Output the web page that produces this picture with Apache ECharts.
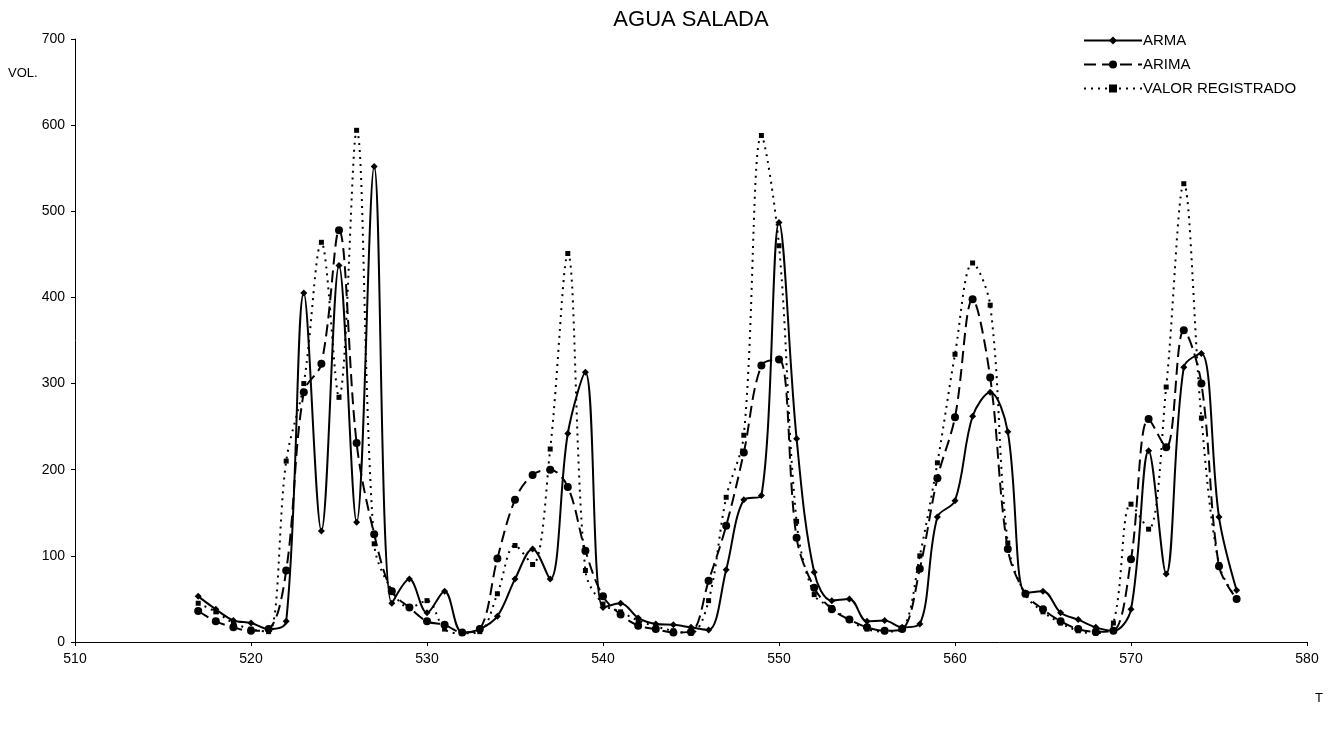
<!DOCTYPE html>
<html>
<head>
<meta charset="utf-8">
<title>AGUA SALADA</title>
<script src="https://cdn.jsdelivr.net/npm/echarts@6/dist/echarts.min.js"></script>
<style>
  html, body { margin: 0; padding: 0; background: #fff; }
  #chart { width: 1339px; height: 730px; }
</style>
</head>
<body>
<div id="chart"></div>
<script>
// Periods (T) 517..576
const periods = [517,518,519,520,521,522,523,524,525,526,527,528,529,530,531,532,533,534,535,536,
                 537,538,539,540,541,542,543,544,545,546,547,548,549,550,551,552,553,554,555,556,
                 557,558,559,560,561,562,563,564,565,566,567,568,569,570,571,572,573,574,575,576];

const arma = [53,38,25,22,15,24,405,129,437,139,552,45,73,34,59,11,15,30,73,108,
              73,242,313,40,45,28,21,20,17,14,84,165,170,487,236,81,48,50,24,25,
              17,21,145,164,262,290,244,57,59,34,26,17,13,38,222,79,319,335,145,60];

const arima = [36,24,17,13,15,83,290,323,478,231,125,59,40,24,20,11,15,97,165,194,
               200,180,106,53,32,19,15,11,12,71,135,220,321,328,121,63,38,26,17,13,
               15,85,190,261,398,307,108,56,38,24,15,12,13,96,259,226,362,300,88,50];

const registrado = [45,35,22,15,12,210,300,464,284,594,114,60,40,48,15,10,12,56,112,90,
                    224,451,83,44,35,25,18,13,10,48,168,240,588,460,140,55,40,25,15,12,
                    15,100,208,334,440,391,115,55,35,22,13,10,22,160,131,296,532,260,90,50];

const yTicks = [0,100,200,300,400,500,600,700];
const xTicks = [510,520,530,540,550,560,570,580];

const pairs = (vals) => periods.map((t, i) => [t, vals[i]]);
const FONT = '"Liberation Sans", Arial, sans-serif';

const chart = echarts.init(document.getElementById('chart'), null, { renderer: 'canvas' });

chart.setOption({
  animation: false,
  backgroundColor: '#ffffff',
  legend: {
    orient: 'vertical',
    left: 1078,
    top: 28,
    itemWidth: 58,
    itemHeight: 10,
    itemGap: 9,
    textStyle: { fontFamily: FONT, fontSize: 15, color: '#000', padding: [0, 0, 0, -4] },
    data: ['ARMA', 'ARIMA', 'VALOR REGISTRADO']
  },
  grid: { left: 75, right: 32, top: 39, bottom: 88 },
  xAxis: {
    type: 'value',
    min: xTicks[0],
    max: xTicks[xTicks.length - 1],
    interval: 10,
    axisLine: { lineStyle: { color: '#000', width: 1 } },
    axisTick: { show: true, length: 4, lineStyle: { color: '#000' } },
    axisLabel: { fontFamily: FONT, fontSize: 14, color: '#000', margin: 10 },
    splitLine: { show: false }
  },
  yAxis: {
    type: 'value',
    min: yTicks[0],
    max: yTicks[yTicks.length - 1],
    interval: 100,
    axisLine: { show: true, lineStyle: { color: '#000', width: 1 } },
    axisTick: { show: true, length: 4, lineStyle: { color: '#000' } },
    axisLabel: { fontFamily: FONT, fontSize: 14, color: '#000', margin: 10 },
    splitLine: { show: false }
  },
  graphic: [
    {
      type: 'text',
      x: 691,
      y: 9,
      style: { text: 'AGUA SALADA', fontFamily: FONT, fontSize: 22, fill: '#000', align: 'center' }
    },
    {
      type: 'text',
      left: 8,
      top: 67,
      style: { text: 'VOL.', fontFamily: FONT, fontSize: 13, fill: '#000' }
    },
    {
      type: 'text',
      left: 1315,
      top: 692,
      style: { text: 'T', fontFamily: FONT, fontSize: 13, fill: '#000' }
    }
  ],
  series: [
    {
      name: 'ARMA',
      type: 'line',
      data: pairs(arma),
      smooth: 0.35,
      symbol: 'diamond',
      symbolSize: 7,
      showSymbol: true,
      itemStyle: { color: '#000' },
      lineStyle: { color: '#000', width: 2, type: 'solid' },
      z: 3
    },
    {
      name: 'ARIMA',
      type: 'line',
      data: pairs(arima),
      smooth: 0.35,
      symbol: 'circle',
      symbolSize: 8,
      showSymbol: true,
      itemStyle: { color: '#000' },
      lineStyle: { color: '#000', width: 2, type: [12, 6] },
      z: 2
    },
    {
      name: 'VALOR REGISTRADO',
      type: 'line',
      data: pairs(registrado),
      smooth: 0.35,
      symbol: 'rect',
      symbolSize: 5,
      showSymbol: true,
      itemStyle: { color: '#000' },
      lineStyle: { color: '#000', width: 2, type: [2, 5] },
      z: 1
    }
  ]
});
</script>
</body>
</html>
